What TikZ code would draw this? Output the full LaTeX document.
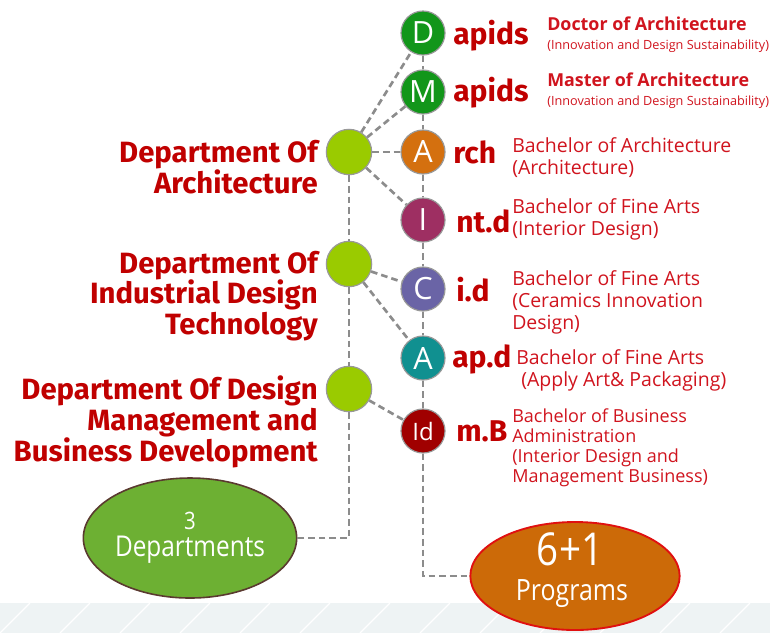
\documentclass[tikz,border=0pt]{standalone}
\usepackage{fontspec}
\setmainfont{Open Sans}
\newfontfamily\bfam{Fira Sans}
\newfontfamily\condf[FakeStretch=0.85]{Open Sans}
\usetikzlibrary{shapes.geometric}
\definecolor{txtred}{HTML}{C00000}
\definecolor{descred}{HTML}{D0141E}
\definecolor{cgreen}{HTML}{12961A}
\definecolor{corange}{HTML}{D4700F}
\definecolor{cmag}{HTML}{9E2F62}
\definecolor{cpurp}{HTML}{6A64A6}
\definecolor{cteal}{HTML}{109090}
\definecolor{cdred}{HTML}{A00000}
\definecolor{cdept}{HTML}{9ACB00}
\definecolor{linegray}{HTML}{8C8C8C}
\definecolor{elgreen}{HTML}{6DB033}
\definecolor{elbrown}{HTML}{5A3A30}
\definecolor{elorange}{HTML}{CC6A08}
\definecolor{elred}{HTML}{E01010}
\definecolor{band}{HTML}{EEF3F4}
\tikzset{
  prog/.style={circle, draw=gray!80, line width=0.9pt, minimum size=33pt, inner sep=0pt, text=white, font=\fontsize{23}{23}\selectfont},
  dept/.style={circle, draw=gray!80, line width=0.9pt, fill=cdept, minimum size=34pt, inner sep=0pt},
  conn/.style={draw=linegray, line width=2pt, dash pattern=on 5pt off 3pt},
  deptlab/.style={anchor=east, align=right, inner sep=0pt, text=txtred, font=\bfam\bfseries\fontsize{22}{23}\selectfont},
  code/.style={anchor=west, inner sep=0pt, text=txtred, font=\bfam\bfseries\fontsize{22.5}{22.5}\selectfont},
  desc/.style={anchor=west, align=left, inner sep=0pt, text=descred, font=\fontsize{14.6}{16.5}\selectfont},
  descb/.style={anchor=west, align=left, inner sep=0pt, text=descred, font=\bfseries\fontsize{13.4}{14}\selectfont},
  descs/.style={anchor=west, align=left, inner sep=0pt, text=descred, font=\fontsize{9.5}{10}\selectfont},
  eltext/.style={inner sep=0pt, text=white},
}
\begin{document}
\begin{tikzpicture}[x=0.75pt, y=-0.75pt]
\useasboundingbox (0,0) rectangle (770,633);
% bottom band
\fill[band] (0,603) rectangle (770,633);
\foreach \i in {0,60,...,780} { \draw[white, line width=1pt] (\i,633) -- (\i+30,603); }
% program circles
\node[prog, fill=cgreen] (D) at (423,33) {D};
\node[prog, fill=cgreen] (M) at (423,92) {M};
\node[prog, fill=corange] (A1) at (423,152) {A};
\node[prog, fill=cmag] (I) at (423,220) {I};
\node[prog, fill=cpurp] (C) at (423,289) {C};
\node[prog, fill=cteal] (A2) at (423,358) {A};
\node[prog, fill=cdred, font=\fontsize{18}{18}\selectfont] (Id) at (423,431) {Id};
% department circles
\node[dept] (DA) at (349,152) {};
\node[dept] (DI) at (349,264) {};
\node[dept] (DM) at (349,389) {};
% ellipses
\node[ellipse, draw=elbrown, line width=1.2pt, fill=elgreen, minimum width=160pt, minimum height=90pt] (T) at (190,538) {};
\node[eltext, font=\condf\fontsize{18}{18}\selectfont] (T1) at (190,521) {3};
\node[eltext, font=\condf\fontsize{21.5}{21.5}\selectfont] (T2) at (190,550) {Departments};
\node[ellipse, draw=elred, line width=1.4pt, fill=elorange, minimum width=157pt, minimum height=81pt, inner sep=0pt] (P) at (575,576) {};
\node[eltext, font=\condf\fontsize{34}{34}\selectfont] (P1) at (570,549) {6+1};
\node[eltext, font=\condf\fontsize{22}{22}\selectfont] (P2) at (572,594) {Programs};
% connectors
\draw[conn] (D) -- (M);
\draw[conn] (M) -- (A1);
\draw[conn] (A1) -- (I);
\draw[conn] (I) -- (C);
\draw[conn] (C) -- (A2);
\draw[conn] (A2) -- (Id);
\draw[conn] (Id) |- (P);
\draw[conn] (DA) -- (DI);
\draw[conn] (DI) -- (DM);
\draw[conn] (DM) |- (T);
\draw[conn] (DA) -- (D);
\draw[conn] (DA) -- (M);
\draw[conn] (DA) -- (A1);
\draw[conn] (DA) -- (I);
\draw[conn] (DI) -- (C);
\draw[conn] (DI) -- (A2);
\draw[conn] (DM) -- (Id);
% department labels
\node[deptlab] (LA) at (318,167) {Department Of\\Architecture};
\node[deptlab] (LI) at (318,296) {Department Of\\Industrial Design\\Technology};
\node[deptlab] (LM) at (318,422) {Department Of Design\\Management and\\Business Development};
% codes
\node[code] (cD) at (453,36) {apids};
\node[code] (cM) at (453,93) {apids};
\node[code] (cA1) at (453,152) {rch};
\node[code] (cI) at (456,221) {nt.d};
\node[code] (cC) at (456,290) {i.d};
\node[code] (cA2) at (452,359) {ap.d};
\node[code] (cId) at (456,431) {m.B};
% descriptions
\node[descb] (dD1) at (547,24) {Doctor of Architecture};
\node[descs] (dD2) at (547,46) {(Innovation and Design Sustainability)};
\node[descb] (dM1) at (547,80) {Master of Architecture};
\node[descs] (dM2) at (547,102) {(Innovation and Design Sustainability)};
\node[desc] (dA1) at (512,158) {Bachelor of Architecture\\(Architecture)};
\node[desc] (dI) at (512,219) {Bachelor of Fine Arts\\(Interior Design)};
\node[desc] (dC) at (512,302) {Bachelor of Fine Arts\\(Ceramics Innovation\\Design)};
\node[desc] (dA2) at (516,370) {Bachelor of Fine Arts\\\ (Apply Art\& Packaging)};
\node[desc, font=\fontsize{13.5}{15}\selectfont] (dId) at (512,448) {Bachelor of Business\\Administration\\(Interior Design and\\Management Business)};
\end{tikzpicture}
\end{document}
